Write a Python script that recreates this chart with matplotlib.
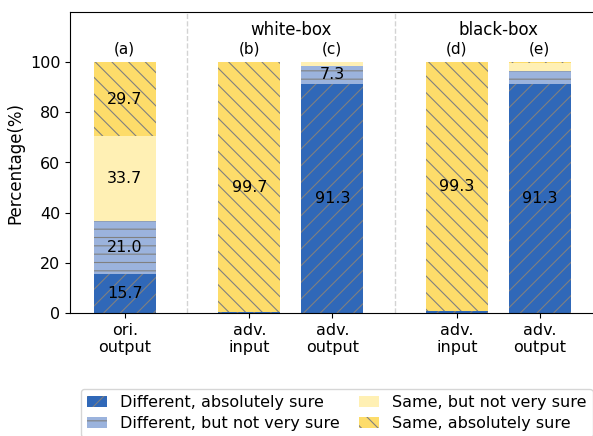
import matplotlib.pyplot as plt
import numpy as np

plt.rcParams['hatch.linewidth'] = 0.8

positions = [0, 1.5, 2.5, 4, 5]
tick_labels = ["ori.\noutput", "adv.\ninput", "adv.\noutput", "adv.\ninput", "adv.\noutput"]
panel_tags = ["(a)", "(b)", "(c)", "(d)", "(e)"]

# percentage per answer type, one value per bar
diff_sure = [15.7, 0.3, 91.3, 0.7, 91.3]
diff_unsure = [21.0, 0.0, 7.3, 0.0, 5.0]
same_unsure = [33.7, 0.0, 1.3, 0.0, 3.4]
same_sure = [29.7, 99.7, 0.1, 99.3, 0.3]

series = [
    ("Different, absolutely sure", diff_sure, "#3068b8", "//"),
    ("Different, but not very sure", diff_unsure, "#9bb3dd", "--"),
    ("Same, but not very sure", same_unsure, "#fff0b4", None),
    ("Same, absolutely sure", same_sure, "#fddc6a", "\\\\"),
]

fig = plt.figure(figsize=(5.93, 4.36), dpi=100)
ax = fig.add_axes([70 / 593, 123 / 436, 1 - 70 / 593, 301 / 436])

bottom = np.zeros(len(positions))
for name, vals, color, hatch in series:
    ax.bar(positions, vals, 0.75, bottom=bottom, color=color, hatch=hatch,
           edgecolor="gray", linewidth=0, label=name)
    for x, b, v in zip(positions, bottom, vals):
        if v > 5:
            ax.text(x, b + v / 2, f"{v:.1f}", ha="center", va="center", fontsize=11.5)
    bottom += np.array(vals)

for x, tag in zip(positions, panel_tags):
    ax.text(x, 102.3, tag, ha="center", va="bottom", fontsize=11)

ax.text(2.0, 109.3, "white-box", ha="center", va="bottom", fontsize=12)
ax.text(4.5, 109.3, "black-box", ha="center", va="bottom", fontsize=12)

for x in [0.75, 3.25]:
    ax.axvline(x, color="lightgray", linestyle="--", linewidth=1)

ax.set_xlim(-0.66, 5.64)
ax.set_ylim(0, 120)
ax.set_yticks([0, 20, 40, 60, 80, 100])
ax.set_xticks(positions)
ax.set_xticklabels(tick_labels, fontsize=11.5)
ax.tick_params(axis="y", labelsize=11.5)
ax.set_ylabel("Percentage(%)", fontsize=12)
ax.spines["right"].set_visible(False)

ax.legend(loc="upper center", bbox_to_anchor=(0.51, -0.252), ncol=2,
          fontsize=11.5, columnspacing=1.2, handlelength=1.25,
          borderaxespad=0, labelspacing=0.35)

fig.savefig("out.png", dpi=100)
